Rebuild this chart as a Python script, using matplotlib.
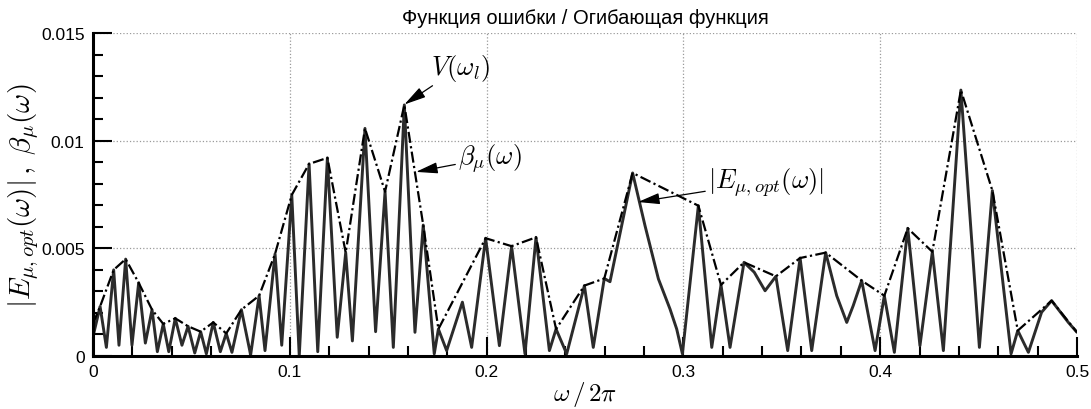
#!/usr/bin/env python3
"""
Error function and its envelope plot
|E_mu,opt(w)| (solid) and beta_mu(w) (dash-dot) versus w/2pi
"""

import matplotlib
matplotlib.use('Agg')
import matplotlib.pyplot as plt
from matplotlib.ticker import MultipleLocator

# Error function |E_mu,opt(w)|: peaks, dips and a few shoulders
e_x = [0.0, 0.0036, 0.0068, 0.0105, 0.0132, 0.0166, 0.0198, 0.0232, 0.0266, 0.0300,
       0.0327, 0.0357, 0.0385, 0.0418, 0.0452, 0.0483, 0.0517, 0.0547, 0.0576, 0.0611,
       0.0647, 0.0677, 0.0706, 0.0754, 0.0801, 0.0844, 0.0874, 0.0925, 0.0959, 0.1010,
       0.1048, 0.1098, 0.1142, 0.1191, 0.1241, 0.1284, 0.1318, 0.1382, 0.1436, 0.1484,
       0.1526, 0.1582, 0.1636, 0.1678, 0.1734, 0.1755, 0.1797, 0.1877, 0.1924, 0.1995,
       0.2065, 0.2127, 0.2195, 0.2251, 0.2319, 0.2353, 0.2407, 0.2497, 0.2542, 0.2598,
       0.2627, 0.2742, 0.2805, 0.2873, 0.2932, 0.2966, 0.2995, 0.3076, 0.3144, 0.3191,
       0.3237, 0.3308, 0.3360, 0.3415, 0.3470, 0.3530, 0.3593, 0.3652, 0.3723, 0.3779,
       0.3830, 0.3863, 0.3906, 0.3974, 0.4021, 0.4072, 0.4140, 0.4202, 0.4265, 0.4321,
       0.4410, 0.4504, 0.4570, 0.4665, 0.4699, 0.4753, 0.4820, 0.4871, 0.4956, 0.5000]
e_y = [0.0009, 0.0023, 0.0004, 0.0040, 0.0005, 0.0045, 0.0005, 0.0034, 0.0006, 0.00215,
       0.0002, 0.00149, 0.0002, 0.00175, 0.0005, 0.00138, 0.00014, 0.00113, 0.0001, 0.00156,
       0.0002, 0.00105, 0.00017, 0.00215, 0.00005, 0.0028, 0.00025, 0.00474, 0.0005, 0.00748,
       0.0, 0.00892, 0.0002, 0.0092, 0.00087, 0.0048, 0.0007, 0.01057, 0.00113, 0.00763,
       0.0004, 0.01166, 0.0011, 0.00608, 0.0001, 0.00125, 0.00025, 0.0025, 0.0004, 0.00547,
       0.00048, 0.0051, 0.0001, 0.00551, 0.00025, 0.00125, 0.0001, 0.00327, 0.0004, 0.0036,
       0.00345, 0.0085, 0.00605, 0.00358, 0.00218, 0.00125, 0.0001, 0.00698, 0.0004, 0.0033,
       0.0004, 0.00435, 0.00389, 0.00303, 0.0037, 0.00025, 0.00455, 0.00025, 0.0048, 0.0028,
       0.00156, 0.00234, 0.0035, 0.00025, 0.0028, 0.00017, 0.00593, 0.00048, 0.00484, 0.00025,
       0.01235, 0.0004, 0.00768, 0.0001, 0.00118, 0.00017, 0.00203, 0.00257, 0.00156, 0.0011]

# Envelope beta_mu(w)
beta_x = [0.0, 0.0036, 0.0105, 0.0166, 0.0232, 0.0300, 0.0357, 0.0418, 0.0483, 0.0547,
          0.0611, 0.0677, 0.0754, 0.0844, 0.0925, 0.1010, 0.1098, 0.1191, 0.1284, 0.1382,
          0.1484, 0.1582, 0.1678, 0.1755, 0.1995, 0.2127, 0.2251, 0.2353, 0.2497, 0.2598,
          0.2742, 0.3076, 0.3191, 0.3308, 0.3470, 0.3593, 0.3723, 0.3906, 0.4021, 0.4140,
          0.4265, 0.4410, 0.4570, 0.4699, 0.4871, 0.5000]
beta_y = [0.0015, 0.0023, 0.0040, 0.0045, 0.0034, 0.00215, 0.00149, 0.00175, 0.00138, 0.00113,
          0.00156, 0.00105, 0.00215, 0.0028, 0.00474, 0.00748, 0.00892, 0.0092, 0.0048, 0.01057,
          0.00763, 0.01166, 0.00608, 0.00125, 0.00547, 0.0051, 0.00551, 0.00125, 0.00327, 0.0036,
          0.0085, 0.00698, 0.0033, 0.00435, 0.0037, 0.00455, 0.0048, 0.0035, 0.0028, 0.00593,
          0.00484, 0.01235, 0.00768, 0.00118, 0.00257, 0.0011]

x_ticks = [0, 0.1, 0.2, 0.3, 0.4, 0.5]
x_tick_labels = ['0', '0.1', '0.2', '0.3', '0.4', '0.5']
y_ticks = [0, 0.005, 0.01, 0.015]
y_tick_labels = ['0', '0.005', '0.01', '0.015']

TITLE = 'Функция ошибки / Огибающая функция'


def plot_error_envelope():
    plt.rcParams['font.family'] = ['Liberation Sans', 'DejaVu Sans']
    plt.rcParams['mathtext.fontset'] = 'cm'

    fig = plt.figure(figsize=(10.91, 4.10), dpi=100)
    ax = fig.add_axes([93 / 1091, 53 / 410, 984 / 1091, 323 / 410])

    ax.plot(e_x, e_y, color='#2b2b2b', linewidth=2.1,
            solid_joinstyle='round', solid_capstyle='round')
    ax.plot(beta_x, beta_y, color='black', linewidth=1.6,
            linestyle=(0, (5, 1.5, 1, 1.5)))

    ax.set_xlim(0, 0.5)
    ax.set_ylim(0, 0.015)
    ax.set_xticks(x_ticks)
    ax.set_xticklabels(x_tick_labels)
    ax.set_yticks(y_ticks)
    ax.set_yticklabels(y_tick_labels)
    ax.xaxis.set_minor_locator(MultipleLocator(0.02))
    ax.yaxis.set_minor_locator(MultipleLocator(0.001))

    ax.tick_params(which='major', direction='in', length=14, width=1.5,
                   labelsize=12.5, pad=6)
    ax.tick_params(which='minor', direction='in', length=7, width=1.5)
    ax.tick_params(top=False, right=False, which='both')

    for side in ['top', 'right']:
        ax.spines[side].set_visible(False)
    for side in ['left', 'bottom']:
        ax.spines[side].set_linewidth(2.2)

    ax.grid(True, which='major', color='#9a9a9a', linestyle=':', linewidth=0.9)

    ax.set_title(TITLE, fontsize=14.5, pad=7)
    ax.set_xlabel(r'$\omega\,/\,2\pi$', fontsize=18, labelpad=0)
    ax.set_ylabel(r'$|E_{\mu,opt}(\omega)|\,,\;\beta_\mu(\omega)$', fontsize=21, labelpad=0)

    arrow = dict(arrowstyle='-|>,head_length=0.7,head_width=0.18', color='black',
                 linewidth=0.9, shrinkA=0, shrinkB=0)
    ax.annotate(r'$V(\omega_l)$', xy=(0.1582, 0.01168), xytext=(0.1715, 0.0134),
                fontsize=19, ha='left', va='center', arrowprops=arrow)
    ax.annotate(r'$\beta_\mu(\omega)$', xy=(0.1641, 0.00855), xytext=(0.1855, 0.0092),
                fontsize=19, ha='left', va='center', arrowprops=arrow)
    ax.annotate(r'$|E_{\mu,opt}(\omega)|$', xy=(0.2769, 0.00715), xytext=(0.3125, 0.0081),
                fontsize=19, ha='left', va='center', arrowprops=arrow)

    fig.savefig('out.png', dpi=100)


if __name__ == '__main__':
    plot_error_envelope()
